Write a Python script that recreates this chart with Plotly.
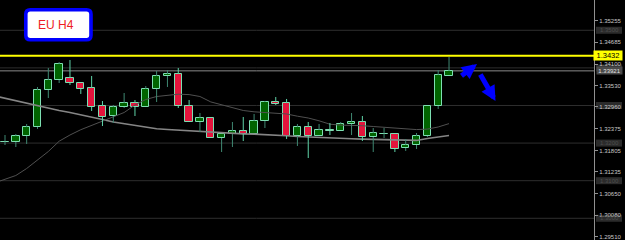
import plotly.graph_objects as go

# ---------------- data (EUR/USD H4) ----------------
opens = [1.32034, 1.32029, 1.32188, 1.32428, 1.33412, 1.33678, 1.33731, 1.33598, 1.33465, 1.32986,
         1.32720, 1.32960, 1.33066, 1.32960, 1.33439, 1.33784, 1.33837, 1.32986, 1.32561, 1.32667,
         1.32135, 1.32242, 1.32321, 1.32242, 1.32587, 1.33093, 1.33066, 1.32188, 1.32428, 1.32188,
         1.32348, 1.32321, 1.32508, 1.32561, 1.32162, 1.32242, 1.32242, 1.31869, 1.31949, 1.32188,
         1.32986, 1.33784]
highs = [1.32215, 1.32242, 1.32508, 1.33492, 1.33997, 1.34157, 1.34210, 1.33598, 1.33784, 1.33119,
         1.33013, 1.33332, 1.33146, 1.33518, 1.33917, 1.33944, 1.33997, 1.33146, 1.32800, 1.32667,
         1.32242, 1.32561, 1.32694, 1.32774, 1.33119, 1.33226, 1.33173, 1.32508, 1.32561, 1.32508,
         1.32534, 1.32561, 1.32800, 1.32720, 1.32401, 1.32401, 1.32242, 1.32108, 1.32268, 1.32986,
         1.33944, 1.34290]
lows = [1.31949, 1.31896, 1.31976, 1.32375, 1.33199, 1.33598, 1.33545, 1.33306, 1.32853, 1.32454,
        1.32534, 1.32933, 1.32720, 1.32960, 1.33093, 1.33492, 1.32933, 1.32561, 1.32295, 1.32135,
        1.31763, 1.31896, 1.32055, 1.32242, 1.32401, 1.33013, 1.32109, 1.31923, 1.31603, 1.32188,
        1.32215, 1.32321, 1.32215, 1.32056, 1.31763, 1.32135, 1.31763, 1.31790, 1.31843, 1.32162,
        1.32907, 1.33784]
closes = [1.32042, 1.32188, 1.32428, 1.33412, 1.33678, 1.34103, 1.33598, 1.33439, 1.32960, 1.32694,
          1.32960, 1.33066, 1.32960, 1.33439, 1.33784, 1.33837, 1.32986, 1.32561, 1.32667, 1.32135,
          1.32242, 1.32321, 1.32242, 1.32587, 1.33093, 1.33040, 1.32188, 1.32428, 1.32188, 1.32348,
          1.32321, 1.32508, 1.32561, 1.32162, 1.32268, 1.32250, 1.31843, 1.31949, 1.32188, 1.32986,
          1.33811, 1.33917]

# moving averages, bar index -1 .. 41
ma_index = list(range(-1, 42))
ma_light = [1.33258, 1.33191, 1.33127, 1.33058, 1.32986, 1.32928, 1.32869, 1.32811, 1.32755, 1.32694,
            1.32627, 1.32561, 1.32513, 1.32462, 1.32417, 1.32383, 1.32361, 1.32343, 1.32324, 1.32308,
            1.32287, 1.32268, 1.32252, 1.32244, 1.32239, 1.32231, 1.32218, 1.32196, 1.32175, 1.32159,
            1.32146, 1.32130, 1.32119, 1.32114, 1.32106, 1.32098, 1.32093, 1.32082, 1.32066, 1.32071,
            1.32122, 1.32167, 1.32202]
ma_dark = [1.30938, 1.31045, 1.31138, 1.31324, 1.31563, 1.31776, 1.32050, 1.32215, 1.32356, 1.32473,
           1.32587, 1.32686, 1.32813, 1.33013, 1.33159, 1.33239, 1.33279, 1.33300, 1.33290, 1.33239,
           1.33095, 1.33024, 1.32946, 1.32867, 1.32832, 1.32811, 1.32806, 1.32774, 1.32715, 1.32667,
           1.32593, 1.32502, 1.32478, 1.32473, 1.32462, 1.32441, 1.32420, 1.32391, 1.32364, 1.32359,
           1.32372, 1.32428, 1.32518]

round_levels = [1.35, 1.34, 1.33, 1.32, 1.31, 1.30]
round_levels_labelled = [1.35, 1.32, 1.31, 1.30]
tick_vals = [1.35255, 1.34685, 1.34100, 1.33530, 1.32960, 1.32375, 1.31805, 1.31235, 1.30650, 1.30080, 1.29510]
tick_text = [f"{v:.5f}" for v in tick_vals]
bid_level = 1.33921
marked_level = 1.3432
chart_label = "EU H4"

# ---------------- styling ----------------
UP_FILL = "#006400"
DN_FILL = "#e3143c"
OUTLINE = "#7ddfb2"
UP_WICK = "#3f8872"
DN_WICK = "#5fd3a8"

PLOT_W = 594  # px of plotting area
H = 240

n = len(opens)
idx = list(range(n))
up = [i for i in idx if closes[i] >= opens[i]]
dn = [i for i in idx if closes[i] < opens[i]]


def wick_xy(ids):
    xs, ys = [], []
    for i in ids:
        top = max(opens[i], closes[i])
        bot = min(opens[i], closes[i])
        xs += [i, i, None, i, i, None]
        ys += [highs[i], top, None, bot, lows[i], None]
    return xs, ys


fig = go.Figure()

# moving averages
fig.add_trace(go.Scatter(x=ma_index, y=ma_light, mode="lines",
                         line=dict(color="#858585", width=1.6), hoverinfo="skip"))
fig.add_trace(go.Scatter(x=ma_index, y=ma_dark, mode="lines",
                         line=dict(color="#505050", width=1), hoverinfo="skip"))

# wicks
for ids, col in ((up, UP_WICK), (dn, DN_WICK)):
    wx, wy = wick_xy(ids)
    fig.add_trace(go.Scatter(x=wx, y=wy, mode="lines", line=dict(color=col, width=1),
                             hoverinfo="skip", connectgaps=False))

# bodies
for ids, fill in ((up, UP_FILL), (dn, DN_FILL)):
    fig.add_trace(go.Bar(
        x=ids,
        base=[min(opens[i], closes[i]) for i in ids],
        y=[max(abs(closes[i] - opens[i]), 0.00002) for i in ids],
        width=0.68,
        marker=dict(color=fill, line=dict(color=OUTLINE, width=1)),
        hoverinfo="skip",
    ))

shapes = []
# round level lines
for lv in round_levels:
    shapes.append(dict(type="line", xref="paper", yref="y", x0=0, x1=1, y0=lv, y1=lv,
                       line=dict(color="#2e2e2e", width=1), layer="below"))
    # label boxes on the price scale
    shapes.append(dict(type="rect", xref="paper", yref="y", xsizemode="pixel", ysizemode="pixel",
                       xanchor=1, yanchor=lv, x0=2, x1=28, y0=-3.5, y1=3.5,
                       fillcolor="#2b2b2b", line=dict(width=0), layer="below"))
# bid line
shapes.append(dict(type="line", xref="paper", yref="y", x0=0, x1=1, y0=bid_level, y1=bid_level,
                   line=dict(color="#8a8a8a", width=1), layer="below"))
# marked (yellow) level
shapes.append(dict(type="line", xref="paper", yref="y", x0=0, x1=1, y0=marked_level, y1=marked_level,
                   line=dict(color="#ffff00", width=2), layer="below"))

# label box top-left (rounded rect, pixel coordinates from top-left corner)
x0, x1, y0, y1, r = 25.8, 91.0, -9.8, -39.8, 4.5
path = (f"M {x0 + r},{y0} L {x1 - r},{y0} Q {x1},{y0} {x1},{y0 - r} "
        f"L {x1},{y1 + r} Q {x1},{y1} {x1 - r},{y1} L {x0 + r},{y1} "
        f"Q {x0},{y1} {x0},{y1 + r} L {x0},{y0 - r} Q {x0},{y0} {x0 + r},{y0} Z")
shapes.append(dict(type="path", xref="paper", yref="paper", xsizemode="pixel", ysizemode="pixel",
                   xanchor=0, yanchor=1, path=path, fillcolor="white",
                   line=dict(color="#0000ff", width=3.6), layer="above"))

annotations = []
for lv in round_levels_labelled:
    annotations.append(dict(x=1, y=lv, xref="paper", yref="y", xanchor="left", yanchor="middle",
                            xshift=4, text=f"{lv:.4f}", showarrow=False,
                            font=dict(size=6, color="#4e4e4e", family="Liberation Sans")))
annotations.append(dict(x=1, y=bid_level, xref="paper", yref="y", xanchor="left", yanchor="middle",
                        xshift=2, text=f"{bid_level:.5f}", showarrow=False, bgcolor="#4a4a4a",
                        width=25, height=7, borderpad=0,
                        font=dict(size=6, color="#e0e0e0", family="Liberation Sans")))
annotations.append(dict(x=1, y=marked_level, xref="paper", yref="y", xanchor="left", yanchor="middle",
                        xshift=-1, text=f"{marked_level:.4f}", showarrow=False, bgcolor="#ffff00",
                        width=28, height=9, borderpad=0,
                        font=dict(size=7.5, color="#000000", family="Liberation Sans")))
annotations.append(dict(x=36 / PLOT_W, y=1 - 25 / H, xref="paper", yref="paper", xanchor="left",
                        yanchor="middle", text=chart_label, showarrow=False,
                        font=dict(size=12, color="#ee1c24", family="Liberation Sans")))
# blue hand-drawn arrows
annotations.append(dict(x=477 / PLOT_W, y=1 - 64 / H, xref="paper", yref="paper", ax=-17, ay=13,
                        text="", showarrow=True, arrowhead=2, arrowsize=0.6, arrowwidth=5,
                        arrowcolor="#0000ff", standoff=0))
annotations.append(dict(x=495.5 / PLOT_W, y=1 - 101 / H, xref="paper", yref="paper", ax=-16, ay=-28,
                        text="", showarrow=True, arrowhead=2, arrowsize=0.6, arrowwidth=5,
                        arrowcolor="#0000ff", standoff=0))

fig.update_layout(
    width=625, height=240,
    margin=dict(l=0, r=31, t=0, b=0),
    paper_bgcolor="black", plot_bgcolor="black",
    showlegend=False, barmode="overlay", bargap=0,
    shapes=shapes, annotations=annotations,
)
fig.update_xaxes(range=[-0.4617, 54.386], visible=False, showgrid=False, zeroline=False)
fig.update_yaxes(range=[1.294225, 1.358055], side="right", tickvals=tick_vals, ticktext=tick_text,
                 ticks="outside", ticklen=3, tickcolor="#909090",
                 tickfont=dict(size=6, color="#c8c8c8", family="Liberation Sans"),
                 showgrid=False, zeroline=False, showline=True, linecolor="#909090", linewidth=1)

fig.write_html("out.html")
